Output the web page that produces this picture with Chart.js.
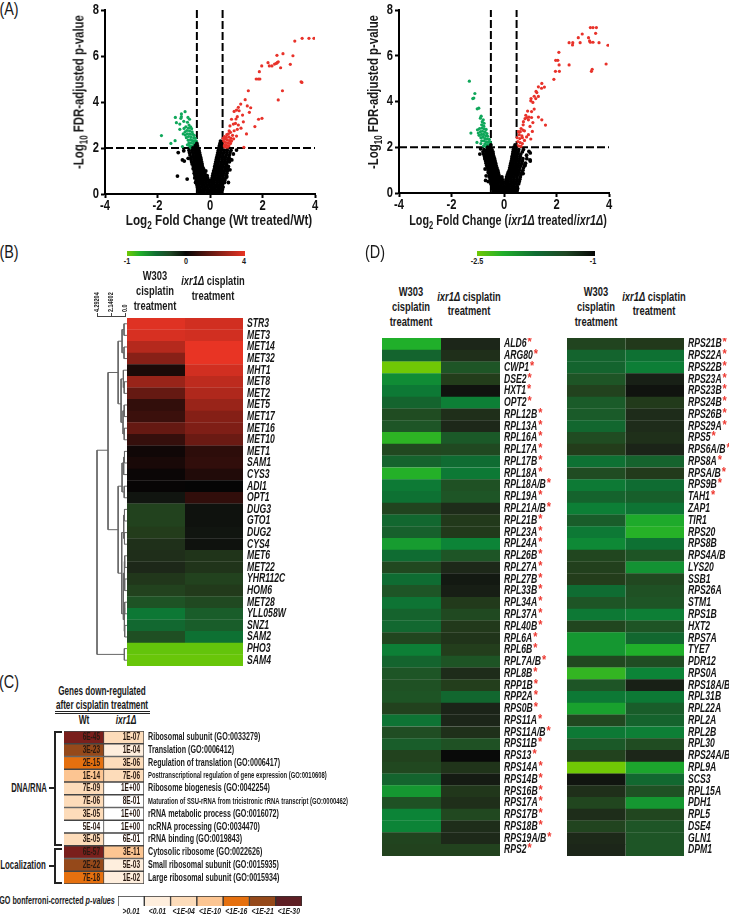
<!DOCTYPE html>
<html>
<head>
<meta charset="utf-8">
<style>
  html, body { margin: 0; padding: 0; background: #fff; }
  #page { position: relative; width: 729px; height: 915px; overflow: hidden; font-family: "Liberation Sans", sans-serif; color: #1a1a1a; }
  #page canvas { position: absolute; }
  .t { position: absolute; white-space: nowrap; font-weight: bold; line-height: 1; }
  .t sub { font-size: 70%; line-height: 0; }
  .b { position: absolute; border: 2px solid #222; border-right: 0; box-sizing: border-box; }
  .l { position: absolute; background: #222; }
</style>
<script src="https://cdn.jsdelivr.net/npm/chart.js@4"></script>
</head>
<body>
<div id="page"></div>
<script>
// Volcano A: black points by row, [y, [x...]]
const blackRowsA = [
  [0, [-.38,-.3,-.22,-.14,-.06,.02,.1,.18,.26,.34,.42]],
  [.1, [-.42,-.32,-.24,-.12,-.04,.06,.15,.24,.33,.44]],
  [.2, [-.46,-.37,-.27,-.18,-.08,.03,.12,.2,.3,.38,.47]],
  [.3, [-.48,-.4,-.3,-.2,-.1,.01,.1,.21,.32,.43,.5]],
  [.4, [-.5,-.41,-.31,-.22,-.12,-.02,.08,.18,.28,.38,.47]],
  [.5, [-.55,-.45,-.35,-.26,-.16,-.05,.06,.16,.27,.37,.46,.55]],
  [.6, [-.52,-.43,-.34,-.24,-.15,-.06,.05,.15,.25,.35,.44,.56]],
  [.7, [-.58,-.47,-.37,-.27,-.18,-.09,.08,.17,.28,.38,.49,.6]],
  [.8, [-.57,-.48,-.38,-.29,-.2,-.11,.1,.2,.3,.4,.5,.62]],
  [.9, [-.6,-.5,-.4,-.3,-.2,.12,.22,.32,.42,.52,.64]],
  [1, [-.6,-.52,-.43,-.33,-.24,-.16,.14,.24,.34,.44,.55,.66]],
  [1.1, [-.64,-.54,-.44,-.35,-.25,.17,.26,.36,.46,.58,.68]],
  [1.2, [-.63,-.55,-.46,-.37,-.29,.18,.28,.38,.48,.6,.7]],
  [1.3, [-.68,-.58,-.48,-.38,-.3,.2,.3,.41,.52,.63]],
  [1.4, [-.7,-.6,-.5,-.4,-.32,.22,.32,.44,.55,.66,.74]],
  [1.5, [-.72,-.61,-.52,-.42,-.34,.24,.34,.46,.57,.68,.78]],
  [1.6, [-.72,-.63,-.53,-.44,-.36,.26,.37,.48,.59,.72]],
  [1.7, [-.76,-.64,-.54,-.45,-.38,.28,.39,.5,.62,.74]],
  [1.8, [-.78,-.66,-.56,-.47,-.4,.3,.41,.52,.64,.76]],
  [1.9, [-.8,-.68,-.58,-.49,-.42,.32,.43,.55,.66,.8]],
  [2, [-.65,-.55,-.46,.34,.44]],
  [2.1, [-.56,-.48,.36,.42]],
  [2.2, [-.5,.38,.44]],
  [2.3, [.4]]
];
const blackExtraA = [[-1.21,1.8],[-1,1.88],[-1.05,1.48],[-.98,1.43],[-.83,1.55],[-1.24,.78],[-.87,.65],[1.01,1.91],[.89,1.74],[.83,1.48],[.76,1.05],[.64,.75],[.7,.5]];
const redA = [[3.23,6.65],[3.51,6.77],[3.77,6.77],[3.96,6.77],[2.55,6.03],[2.78,6.1],[3.16,6.01],[3.06,5.64],[2.21,5.71],[2.26,5.57],[2.36,5.57],[2.53,5.68],[2.46,5.65],[2.6,5.75],[2.56,5.71],[2.69,5.49],[1.97,5.57],[1.88,5.32],[1.76,5],[1.84,5],[1.9,5],[3.47,4.88],[3.5,4.85],[2.76,4.49],[2.6,4.09],[1.46,4.49],[1.34,4.1],[1.42,3.83],[1.55,3.75],[1.5,3.55],[1.17,3.91],[1.08,3.77],[1.01,3.65],[.92,3.59],[1.11,3.62],[1.24,3.43],[1.04,3.36],[.99,3.26],[.82,3.25],[1.27,3.14],[.97,3.07],[.89,3.04],[1.08,3],[1.85,3.25],[1.98,3.29],[1.71,2.93],[.76,2.96],[1.18,2.86],[1.04,2.81],[.92,2.75],[.73,2.75],[1.39,2.61],[1.01,2.52],[1.29,2.03],[.78,2.68],[.7,2.62],[.64,2.58],[.86,2.55],[.55,2.5],[.62,2.46],[.72,2.48],[.8,2.42],[.5,2.42],[.57,2.38],[.66,2.35],[.75,2.32],[.47,2.3],[.53,2.28],[.6,2.24],[.69,2.22],[.78,2.2],[.48,2.18],[.55,2.14],[.63,2.12],[.72,2.1],[.5,2.06],[.58,2.04],[.66,2.02],[.82,2.3],[.9,2.4]];
const greenA = [[-1.85,2.54],[-1.49,2.2],[-1.33,2.32],[-1.32,3.33],[-1.09,3.48],[-.95,3.58],[-1.09,3.36],[-1.11,3.29],[-.84,3.33],[-.78,3.25],[-1,3.16],[-1.28,3.1],[-1.15,3.04],[-.86,3.12],[-.8,3],[-1.15,2.81],[-.99,2.85],[-.92,2.92],[-.82,2.86],[-.74,2.92],[-.7,2.84],[-1.02,2.61],[-.95,2.7],[-.88,2.76],[-.78,2.74],[-.68,2.7],[-.94,2.56],[-.86,2.62],[-.76,2.6],[-.66,2.6],[-.6,2.55],[-.9,2.45],[-.82,2.5],[-.72,2.48],[-.62,2.44],[-.56,2.42],[-1.05,2.06],[-.83,2.34],[-.74,2.36],[-.66,2.32],[-.58,2.3],[-.52,2.3],[-.8,2.22],[-.72,2.22],[-.63,2.2],[-.55,2.18],[-.78,2.1],[-.7,2.08],[-.62,2.06],[-.55,2.05],[-.86,2.14],[-.74,2.02]];

// Volcano B
const blackRowsB = [
  [0, [-.34,-.26,-.18,-.1,-.02,.06,.14,.22,.3,.38,.46]],
  [.1, [-.4,-.31,-.22,-.13,-.04,.05,.14,.23,.32,.41,.5]],
  [.2, [-.44,-.35,-.26,-.17,-.08,.02,.11,.2,.3,.4,.52]],
  [.3, [-.46,-.37,-.28,-.19,-.1,0,.1,.19,.29,.39,.5]],
  [.4, [-.5,-.4,-.31,-.22,-.12,-.03,.07,.17,.27,.37,.48,.56]],
  [.5, [-.6,-.5,-.41,-.33,-.24,-.14,-.05,.06,.16,.26,.36,.47,.58]],
  [.6, [-.52,-.43,-.34,-.25,-.16,-.07,.08,.17,.27,.37,.49,.6]],
  [.7, [-.56,-.46,-.36,-.27,-.17,-.08,.1,.19,.29,.39,.5,.62]],
  [.8, [-.56,-.47,-.38,-.29,-.2,.13,.22,.31,.41,.52,.64]],
  [.9, [-.6,-.5,-.4,-.31,-.22,.16,.25,.34,.44,.55,.68]],
  [1, [-.6,-.52,-.42,-.33,-.24,.2,.28,.38,.48,.58,.72]],
  [1.1, [-.62,-.53,-.44,-.35,-.27,.22,.3,.4,.5,.6,.74]],
  [1.2, [-.66,-.56,-.46,-.37,-.3,.24,.33,.43,.54,.64,.78]],
  [1.3, [-.68,-.58,-.49,-.4,-.32,.26,.35,.45,.56,.68,.82]],
  [1.4, [-.7,-.6,-.51,-.42,-.34,.28,.37,.47,.58,.7]],
  [1.5, [-.73,-.62,-.53,-.44,-.36,.3,.39,.49,.6,.72,.87]],
  [1.6, [-.74,-.64,-.55,-.46,-.39,.31,.4,.5,.62]],
  [1.7, [-.78,-.66,-.57,-.48,-.41,.33,.42,.52,.64]],
  [1.8, [-.8,-.69,-.59,-.5,-.42,.34,.43,.54,.7]],
  [1.9, [-.76,-.64,-.54,-.46,.36,.44,.56,.74]],
  [2, [-.62,-.52,.38,.45]],
  [2.1, [-.5,.42]]
];
const blackExtraB = [[-.89,1.93],[-.92,1.7],[-.7,1.85],[.99,1.45],[1,1.4],[.95,1.82],[1,1.75],[.86,1.65],[.8,1.2],[.73,.85],[-.72,1.05],[-.68,.75],[-.7,.55]];
const redB = [[3.29,7.23],[3.39,7.23],[3.52,7.23],[2.98,6.95],[3.49,6.98],[2.83,6.79],[3.22,6.79],[2.48,6.57],[2.62,6.57],[2.61,6.47],[2.9,6.57],[3.26,6.65],[3.29,6.59],[3.39,6.59],[3.62,6.57],[3.96,6.46],[2.09,6.15],[1.97,5.8],[2.05,5.8],[2.1,5.6],[2.48,5.6],[3.89,5.64],[3.36,5.41],[3.33,5.32],[1.96,5.32],[2.11,5.32],[1.9,4.97],[1.44,4.79],[1.31,4.64],[1.54,4.63],[1.43,4.58],[1.22,4.44],[1.25,4.39],[1.15,4.23],[1.31,4.22],[1.21,4.13],[1.03,4.13],[1.02,4.03],[1.1,3.96],[1.15,3.67],[1.05,3.56],[.9,3.58],[.83,3.4],[1.31,3.32],[1.44,3.2],[1.58,2.97],[.87,3.3],[.95,3.32],[1.05,3.3],[.8,3.25],[.93,3.2],[.74,3.12],[1.1,3.08],[.73,2.98],[.99,2.91],[.65,2.82],[.62,2.68],[.72,2.75],[.78,2.72],[.93,2.55],[1.08,2.69],[1.02,2.36],[.78,2.3],[.58,2.55],[.68,2.5],[.5,2.42],[.6,2.38],[.7,2.42],[.86,2.45],[.53,2.25],[.62,2.2],[.7,2.16],[.5,2.08],[.57,2.05],[.65,2.04],[.55,2.68]];
const greenB = [[-1.32,4.89],[-1.11,4.35],[-1.15,4.15],[-1.19,4.13],[-1.02,3.68],[-.96,3.71],[-.87,3.36],[-.9,3.27],[-.79,3.2],[-1.26,2.62],[-1.03,2.21],[-1.01,2.76],[-.83,3.12],[-.76,3.05],[-.85,2.98],[-.77,2.92],[-.93,2.82],[-.84,2.84],[-.75,2.8],[-.68,2.78],[-.98,2.62],[-.9,2.68],[-.82,2.7],[-.72,2.66],[-.65,2.6],[-.95,2.52],[-.86,2.56],[-.78,2.56],[-.7,2.5],[-.62,2.48],[-.88,2.42],[-.8,2.44],[-.72,2.38],[-.64,2.36],[-.56,2.34],[-.85,2.28],[-.76,2.28],[-.68,2.24],[-.6,2.22],[-.52,2.22],[-.88,2.16],[-.73,2.14],[-.65,2.12],[-.57,2.1],[-.5,2.1],[-.78,2.05],[-.68,2.03],[-.6,2.02]];

const volcanoTicksX = [-4, -2, 0, 2, 4];
const volcanoTicksY = [0, 2, 4, 6, 8];
const cutFoldDown = -0.5;
const cutFoldUp = 0.48;
const cutP = 2;

// Heatmap B
const genesB = ['STR3','MET3','MET14','MET32','MHT1','MET8','MET2','MET5','MET17','MET16','MET10','MET1','SAM1','CYS3','ADI1','OPT1','DUG3','GTO1','DUG2','CYS4','MET6','MET22','YHR112C','HOM6','MET28','YLL058W','SNZ1','SAM2','PHO3','SAM4'];
const wtB = [3.85,3.7,3.1,2.3,.4,2.6,1.7,.8,.95,1.7,.85,.2,.35,.1,.03,-.06,-.28,-.28,-.25,-.18,-.17,-.13,-.22,-.28,-.37,-.55,-.48,-.35,-.97,-.98];
const koB = [3.6,3.6,4,4,3.6,3.25,3,2.6,2.25,2.15,1.8,.7,.78,.5,0,.78,-.05,-.05,-.06,-.05,-.2,-.2,-.28,-.24,-.32,-.42,-.42,-.52,-.97,-.98];

// Dendrogram nodes: [distance, top row, bottom row, distance of top child, distance of bottom child]
const LEAF = -.3;
const dendroNodes = [
  [4.29,10.9,28.5,2.6,.1],[2.6,4.2,17.75,1.05,1.05],[.1,28,29,LEAF,LEAF],
  [1.05,1.5,6.9,.45,.6],[.45,.5,2.5,.15,.15],[.15,0,1,LEAF,LEAF],[.15,2,3,LEAF,LEAF],
  [.6,4.75,8.5,.25,.3],[.25,4,5.5,LEAF,.12],[.12,5,6,LEAF,LEAF],[.3,7.5,9.5,.12,.12],[.12,7,8,LEAF,LEAF],[.12,9,10,LEAF,LEAF],
  [1.05,14,21.5,.45,.5],[.45,12,14.5,.2,.12],[.2,11.5,13,.08,LEAF],[.08,11,12,LEAF,LEAF],[.12,14,15,LEAF,LEAF],
  [.5,18,25,.2,.25],[.2,16.5,18.5,.08,.08],[.08,16,17,LEAF,LEAF],[.08,18,19,LEAF,LEAF],
  [.25,21.5,25.5,.12,.12],[.12,20.5,22.5,.05,.05],[.05,20,21,LEAF,LEAF],[.05,22,23,LEAF,LEAF],[.12,24.5,26.5,.05,.05],[.05,24,25,LEAF,LEAF],[.05,26,27,LEAF,LEAF]
];
const dendroTicks = [4.29204, 2.14602, 0];
const dendroTickLabels = ['4.29204', '2.14602', '0.0'];

// Heatmap D, left and right panels
const genesD1 = ['ALD6','ARG80','CWP1','DSE2','HXT1','OPT2','RPL12B','RPL13A','RPL16A','RPL17A','RPL17B','RPL18A','RPL18A/B','RPL19A','RPL21A/B','RPL21B','RPL23A','RPL24A','RPL26B','RPL27A','RPL27B','RPL33B','RPL34A','RPL37A','RPL40B','RPL6A','RPL6B','RPL7A/B','RPL8B','RPP1B','RPP2A','RPS0B','RPS11A','RPS11A/B','RPS11B','RPS13','RPS14A','RPS14B','RPS16B','RPS17A','RPS17B','RPS18B','RPS19A/B','RPS2'];
const wtD1 = [-2.17,-1.69,-2.5,-1.95,-1.83,-1.69,-1.5,-1.57,-2.23,-1.47,-1.68,-2.19,-1.84,-1.78,-1.44,-1.71,-1.66,-2.05,-1.75,-1.47,-1.75,-1.57,-1.8,-1.68,-1.72,-1.45,-1.87,-1.69,-1.57,-1.54,-1.56,-1.42,-1.8,-1.51,-1.63,-1.42,-1.47,-1.69,-2.02,-1.54,-1.9,-1.9,-1.44,-1.42];
const koD1 = [-1.18,-1.26,-1.57,-1.38,-1.08,-1.87,-1.26,-1.2,-1.6,-1.48,-1.75,-1.83,-1.54,-1.57,-1.23,-1.35,-1.35,-1.9,-1.57,-1.2,-1.11,-1.14,-1.36,-1.48,-1.35,-1.3,-1.39,-1.56,-1.23,-1.39,-1.71,-1.17,-1.18,-1.27,-1.54,-1.03,-1.3,-1.12,-1.33,-1.26,-1.47,-1.24,-1.21,-1.42];
const genesD2 = ['RPS21B','RPS22A','RPS22B','RPS23A','RPS23B','RPS24B','RPS26B','RPS29A','RPS5','RPS6A/B','RPS8A','RPSA/B','RPS9B','TAH1','ZAP1','TIR1','RPS20','RPS8B','RPS4A/B','LYS20','SSB1','RPS26A','STM1','RPS1B','HXT2','RPS7A','TYE7','PDR12','RPS0A','RPS18A/B','RPL31B','RPL22A','RPL2A','RPL2B','RPL30','RPS24A/B','RPL9A','SCS3','RPL15A','PDH1','RPL5','DSE4','GLN1','DPM1'];
const wtD2 = [-1.44,-1.69,-1.69,-1.57,-1.42,-1.62,-1.62,-1.71,-1.5,-1.38,-1.78,-1.5,-1.84,-1.68,-1.87,-1.63,-1.83,-1.93,-1.45,-1.41,-1.38,-1.75,-1.57,-1.83,-1.45,-2.02,-2.02,-1.47,-2.26,-1.57,-1.83,-2.08,-1.47,-1.83,-1.6,-1.42,-2.5,-1.09,-1.26,-1.45,-1.24,-1.44,-1.21,-1.18];
const koD2 = [-1.35,-1.78,-1.86,-1.15,-1.08,-1.36,-1.23,-1.23,-1.27,-1.17,-1.68,-1.36,-1.75,-1.65,-1.8,-2.14,-2.2,-1.78,-1.56,-1.99,-1.47,-1.54,-1.57,-1.87,-1.56,-1.71,-2.17,-1.51,-1.9,-1.15,-1.83,-1.63,-1.68,-1.87,-1.5,-1.18,-2.11,-1.72,-1.54,-2.02,-1.45,-1.57,-1.57,-1.57];
const starredD2 = 14;

// Table C
const termsC = ['Ribosomal subunit (GO:0033279)','Translation (GO:0006412)','Regulation of translation (GO:0006417)','Posttranscriptional regulation of gene expression (GO:0010608)','Ribosome biogenesis (GO:0042254)','Maturation of SSU-rRNA from tricistronic rRNA transcript (GO:0000462)','rRNA metabolic process (GO:0016072)','ncRNA processing (GO:0034470)','rRNA binding (GO:0019843)','Cytosolic ribosome (GO:0022626)','Small ribosomal subunit (GO:0015935)','Large ribosomal subunit (GO:0015934)'];
const wtP = ['6E-45','3E-23','2E-15','1E-14','7E-09','7E-06','3E-05','5E-04','3E-05','6E-57','2E-22','7E-18'];
const koP = ['1E-07','1E-04','3E-06','7E-06','1E+00','8E-01','1E+00','1E+00','6E-01','3E-11','5E-03','1E-02'];
const wtBin = [6,5,4,3,2,2,2,0,2,6,5,4];
const koBin = [2,1,2,2,0,0,0,0,0,3,1,1];
const binLabels = ['>0.01','<0.01','<1E-04','<1E-10','<1E-16','<1E-21','<1E-30'];
const binColors = ['#ffffff','#feeedd','#fddcba','#fcc592','#e5700f','#95491a','#5e1f24'];
const cellColors = ['#ffffff','#feeedd','#fddcba','#fcc592','#e5700f','#95491a','#7a1f1c'];

const FONT = '"Liberation Sans", sans-serif';
const page = document.getElementById('page');

function mix(stops, t) {
    t = Math.max(0, Math.min(1, t));
    for (let i = 1; i < stops.length; i++) {
        if (t <= stops[i][0]) {
            const a = stops[i - 1], b = stops[i];
            const f = (t - a[0]) / (b[0] - a[0]);
            return `rgb(${[1, 2, 3].map(k => Math.round(a[k] + (b[k] - a[k]) * f)).join(',')})`;
        }
    }
    const l = stops[stops.length - 1];
    return `rgb(${l[1]},${l[2]},${l[3]})`;
}

const greenStops = [[0,5,5,5],[.05,15,18,14],[.12,28,38,25],[.25,35,60,27],[.38,30,85,38],[.5,15,108,50],[.6,12,132,55],[.78,32,175,42],[.9,70,188,25],[1,112,200,5]];
const redStops = [[0,5,5,5],[1,232,52,36]];
const colorB = v => v >= 0 ? mix(redStops, v / 4) : mix(greenStops, -v);
const colorD = v => mix(greenStops, (-1 - v) / 1.5);

function addCanvas(left, top, width, height) {
    const c = document.createElement('canvas');
    c.width = width;
    c.height = height;
    c.style.left = left + 'px';
    c.style.top = top + 'px';
    c.style.width = width + 'px';
    c.style.height = height + 'px';
    page.appendChild(c);
    return c.getContext('2d');
}

// no condensed face is installed, so text gets squeezed sideways
function text(html, x, y, size, sx, rot, weight) {
    const d = document.createElement('div');
    d.className = 't';
    d.innerHTML = html;
    d.style.left = x + 'px';
    d.style.top = y + 'px';
    d.style.fontSize = size + 'px';
    if (weight) d.style.fontWeight = weight;
    d.style.transform = `translate(-50%,-50%) ${rot ? 'rotate(-90deg) ' : ''}scaleX(${sx})`;
    page.appendChild(d);
    return d;
}

function box(cls, x, y, w, h) {
    const d = document.createElement('div');
    d.className = cls;
    d.style.cssText = `left:${x}px;top:${y}px;width:${w}px;height:${h}px`;
    page.appendChild(d);
    return d;
}

function narrow(ctx, str, x, y, font, color, align, sx, rot) {
    ctx.save();
    ctx.translate(x, y);
    if (rot) ctx.rotate(-Math.PI / 2);
    ctx.scale(sx, 1);
    ctx.font = font;
    ctx.fillStyle = color;
    ctx.textAlign = align;
    ctx.textBaseline = 'middle';
    ctx.fillText(str, 0, 0);
    const w = ctx.measureText(str).width * sx;
    ctx.restore();
    return w;
}

const rowsToPoints = rows => rows.flatMap(r => r[1].map(x => ({ x: x, y: r[0] })));
const pairsToPoints = pairs => pairs.map(p => ({ x: p[0], y: p[1] }));

const volcanoLabels = {
    id: 'volcanoLabels',
    afterDraw(chart) {
        const f = `bold 14px ${FONT}`;
        const { x, y } = chart.scales;
        x.ticks.forEach((t, i) => narrow(chart.ctx, String(t.value), x.getPixelForTick(i), chart.chartArea.bottom + 12, f, '#111', 'center', .8));
        y.ticks.forEach((t, i) => narrow(chart.ctx, String(t.value), chart.chartArea.left - 6, y.getPixelForTick(i), f, '#111', 'right', .8));
    }
};

function volcano(left, plotW, plotH, top, black, red, green) {
    const marks = (data, color, r) => ({ data: pairsToPoints(data), backgroundColor: color, borderWidth: 0, pointRadius: r });
    const cut = (data) => ({ data: data, showLine: true, borderColor: '#000', borderWidth: 2, borderDash: [8, 3], pointRadius: 0, fill: false });
    const axis = {
        grid: { drawOnChartArea: false, tickLength: 4, tickWidth: 2, tickColor: '#000' },
        border: { width: 2, color: '#000' },
        ticks: { display: false }
    };
    new Chart(addCanvas(left - 45, 0, plotW + 45 + 15, plotH + top + 21), {
        type: 'scatter',
        data: {
            datasets: [
                { data: rowsToPoints(black[0]).concat(pairsToPoints(black[1])), backgroundColor: '#000', borderWidth: 0, pointRadius: 1.9 },
                marks(red, '#e8322a', 1.6),
                marks(green, '#0fa75a', 1.6),
                cut([{ x: cutFoldDown, y: 0 }, { x: cutFoldDown, y: 8 }]),
                cut([{ x: cutFoldUp, y: 0 }, { x: cutFoldUp, y: 8 }]),
                cut([{ x: -4, y: cutP }, { x: 4, y: cutP }])
            ]
        },
        options: {
            responsive: false,
            animation: false,
            layout: { padding: { top: top, right: 15 } },
            plugins: { legend: { display: false }, tooltip: { enabled: false } },
            scales: {
                x: Object.assign({
                    type: 'linear', min: -4, max: 4,
                    afterBuildTicks: s => { s.ticks = volcanoTicksX.map(v => ({ value: v })); },
                    afterFit: s => { s.height = 21; }
                }, axis),
                y: Object.assign({
                    type: 'linear', min: 0, max: 8,
                    afterBuildTicks: s => { s.ticks = volcanoTicksY.map(v => ({ value: v })); },
                    afterFit: s => { s.width = 45; }
                }, axis)
            }
        },
        plugins: [volcanoLabels]
    });
}

// gene names from the category axis, with the red star after the first `stars` of them
const geneLabels = stars => ({
    id: 'geneLabels',
    afterDraw(chart) {
        const y = chart.scales.y;
        const start = chart.chartArea.right + 4;
        chart.data.labels.forEach((name, i) => {
            const py = y.getPixelForValue(i);
            const w = narrow(chart.ctx, name, start, py, `italic bold 12px ${FONT}`, '#151515', 'left', .72);
            if (i < stars) narrow(chart.ctx, '*', start + w + 1, py - 1, `bold 12px ${FONT}`, '#ee3a32', 'left', .9);
        });
    }
});

function heatmap(left, top, plotW, plotH, labelW, genes, wt, ko, color, stars) {
    new Chart(addCanvas(left, top, plotW + labelW, plotH), {
        type: 'bar',
        data: {
            labels: genes,
            datasets: [wt, ko].map(vals => ({
                data: vals.map(() => 1),
                backgroundColor: vals.map(color),
                borderWidth: 0,
                barPercentage: 1.02,
                categoryPercentage: 1
            }))
        },
        options: {
            indexAxis: 'y',
            responsive: false,
            animation: false,
            plugins: { legend: { display: false }, tooltip: { enabled: false } },
            scales: {
                x: { display: false, stacked: true, min: 0, max: 2 },
                y: {
                    stacked: true,
                    position: 'right',
                    afterFit: s => { s.width = labelW; },
                    grid: { display: false },
                    border: { display: false },
                    ticks: { display: false }
                }
            }
        },
        plugins: [geneLabels(stars)]
    });
}

const dendroLabels = {
    id: 'dendroLabels',
    afterDraw(chart) {
        const x = chart.scales.x;
        dendroTicks.forEach((v, i) => narrow(chart.ctx, dendroTickLabels[i], x.getPixelForValue(v), chart.chartArea.top - 4, `bold 8px ${FONT}`, '#222', 'left', .68, true));
    }
};

function dendrogram() {
    const points = [];
    dendroNodes.forEach(n => {
        points.push({ x: n[3], y: n[1] }, { x: n[0], y: n[1] }, { x: n[0], y: n[2] }, { x: n[4], y: n[2] }, { x: NaN, y: NaN });
    });
    new Chart(addCanvas(89, 286, 40, 380), {
        type: 'scatter',
        data: { datasets: [{ data: points, showLine: true, spanGaps: false, clip: false, borderColor: '#666', borderWidth: 1, pointRadius: 0 }] },
        options: {
            responsive: false,
            animation: false,
            layout: { padding: { left: 8, right: 4 } },
            plugins: { legend: { display: false }, tooltip: { enabled: false } },
            scales: {
                x: {
                    type: 'linear', position: 'top', reverse: true, min: 0, max: 4.29204,
                    afterBuildTicks: s => { s.ticks = dendroTicks.map(v => ({ value: v })); },
                    afterFit: s => { s.height = 30; },
                    grid: { drawOnChartArea: false, tickLength: 3, tickColor: '#444' },
                    border: { color: '#444' },
                    ticks: { display: false }
                },
                y: { display: false, type: 'linear', reverse: true, min: -.67, max: 29.5 }
            }
        },
        plugins: [dendroLabels]
    });
}

const tableLabels = {
    id: 'tableLabels',
    afterDatasetsDraw(chart) {
        const ctx = chart.ctx;
        [wtP, koP].forEach((vals, d) => {
            chart.getDatasetMeta(d).data.forEach((bar, i) => {
                narrow(ctx, vals[i], bar.x - 4, bar.y, `bold 10.5px ${FONT}`, '#2a1a12', 'right', .62);
            });
        });
        const y = chart.scales.y;
        chart.data.labels.forEach((name, i) => {
            const small = i === 3 || i === 5;
            narrow(ctx, name, chart.chartArea.right + 4, y.getPixelForValue(i), `bold ${small ? 9.5 : 10.5}px ${FONT}`, '#1a1a1a', 'left', small ? .62 : .68);
        });
    }
};

function goTable() {
    new Chart(addCanvas(64, 731, 290, 153), {
        type: 'bar',
        data: {
            labels: termsC,
            datasets: [wtBin, koBin].map(bins => ({
                data: bins.map(() => 1),
                backgroundColor: bins.map(b => cellColors[b]),
                borderColor: '#444',
                borderWidth: 1,
                barPercentage: 1,
                categoryPercentage: 1
            }))
        },
        options: {
            indexAxis: 'y',
            responsive: false,
            animation: false,
            plugins: { legend: { display: false }, tooltip: { enabled: false } },
            scales: {
                x: { display: false, stacked: true, min: 0, max: 2 },
                y: {
                    stacked: true,
                    position: 'right',
                    afterFit: s => { s.width = 210; },
                    grid: { display: false },
                    border: { display: false },
                    ticks: { display: false }
                }
            }
        },
        plugins: [tableLabels]
    });
}

const legendLabels = {
    id: 'legendLabels',
    afterDraw(chart) {
        const x = chart.scales.x;
        binLabels.forEach((s, i) => narrow(chart.ctx, s, x.getPixelForValue(i), chart.chartArea.bottom + 5.5, `italic bold 9.5px ${FONT}`, '#222', 'center', .72));
    }
};

function goLegend() {
    new Chart(addCanvas(118, 896, 184, 19), {
        type: 'bar',
        data: {
            labels: binLabels,
            datasets: [{ data: binLabels.map(() => 1), backgroundColor: binColors, borderColor: '#333', borderWidth: 1, barPercentage: 1, categoryPercentage: 1 }]
        },
        options: {
            responsive: false,
            animation: false,
            plugins: { legend: { display: false }, tooltip: { enabled: false } },
            scales: {
                x: {
                    afterFit: s => { s.height = 9; },
                    grid: { display: false },
                    border: { display: false },
                    ticks: { display: false }
                },
                y: { display: false, min: 0, max: 1 }
            }
        },
        plugins: [legendLabels]
    });
}

// Volcanoes
volcano(105, 210, 184, 10, [blackRowsA, blackExtraA], redA, greenA);
volcano(399, 210, 183, 10, [blackRowsB, blackExtraB], redB, greenB);
const yTitle = '-Log<sub>10</sub> FDR-adjusted p-value';
text(yTitle, 78, 92, 15, .76, true);
text(yTitle, 372, 92, 15, .76, true);
text('Log<sub>2</sub> Fold Change (Wt treated/Wt)', 219, 219, 15, .78);
text('Log<sub>2</sub> Fold Change (<i>ixr1Δ</i> treated/<i>ixr1Δ</i>)', 508, 219, 15, .72);

// Panel letters
text('(A)', 9, 9, 18, .8, false, 'normal');
text('(B)', 9, 252, 18, .8, false, 'normal');
text('(C)', 9, 682, 18, .8, false, 'normal');
text('(D)', 375, 252, 18, .8, false, 'normal');

// Panel B
dendrogram();
heatmap(127, 318, 116, 348, 50, genesB, wtB, koB, colorB, 0);
box('l', 127, 251, 118, 5).style.background = 'linear-gradient(to right,rgb(112,200,5) 0%,rgb(32,175,42) 11%,rgb(15,108,50) 25%,rgb(30,70,35) 37%,rgb(5,5,5) 50%,rgb(232,52,36) 100%)';
text('-1', 127, 261, 9, .8);
text('0', 186, 261, 9, .8);
text('4', 244, 261, 9, .8);
['W303', 'cisplatin', 'treatment'].forEach((s, i) => text(s, 154.5, 275 + i * 15, 13, .72));
text('<i>ixr1Δ</i> cisplatin', 212.5, 280, 13, .72);
text('treatment', 212.5, 295, 13, .72);

// Panel C
text('Genes down-regulated', 102, 691, 12.5, .65);
text('after cisplatin treatment', 102, 704.5, 12.5, .65);
box('l', 55, 711, 95, 1);
box('l', 55, 713, 95, 1);
text('Wt', 84, 720, 12, .7);
text('<i>ixr1Δ</i>', 126, 720, 12, .7);
goTable();
box('b', 54, 731, 8, 115);
box('b', 54, 848, 8, 36);
box('l', 49, 787, 5, 1.5);
box('l', 49, 865, 5, 1.5);
text('DNA/RNA', 29, 788, 12.5, .62);
text('Localization', 23, 865, 12.5, .63);
text('GO bonferroni-corrected <i>p-values</i>', 57, 901, 10, .72);
goLegend();

// Panel D
box('l', 477, 251, 118, 5).style.background = 'linear-gradient(to right,rgb(112,200,5) 0%,rgb(32,175,42) 22%,rgb(15,108,50) 50%,rgb(30,70,35) 75%,rgb(5,5,5) 100%)';
text('-2.5', 477, 261, 9, .8);
text('-1', 593, 261, 9, .8);
[[410.5, 468.5], [595.5, 653.5]].forEach(c => {
    ['W303', 'cisplatin', 'treatment'].forEach((s, i) => text(s, c[0], 290.5 + i * 15, 13, .72));
    text('<i>ixr1Δ</i> cisplatin', c[1], 295.5, 13, .72);
    text('treatment', c[1], 310, 13, .72);
});
heatmap(382, 338, 118, 518, 60, genesD1, wtD1, koD1, colorD, genesD1.length);
heatmap(567, 338, 117, 518, 45, genesD2, wtD2, koD2, colorD, starredD2);
</script>
</body>
</html>
